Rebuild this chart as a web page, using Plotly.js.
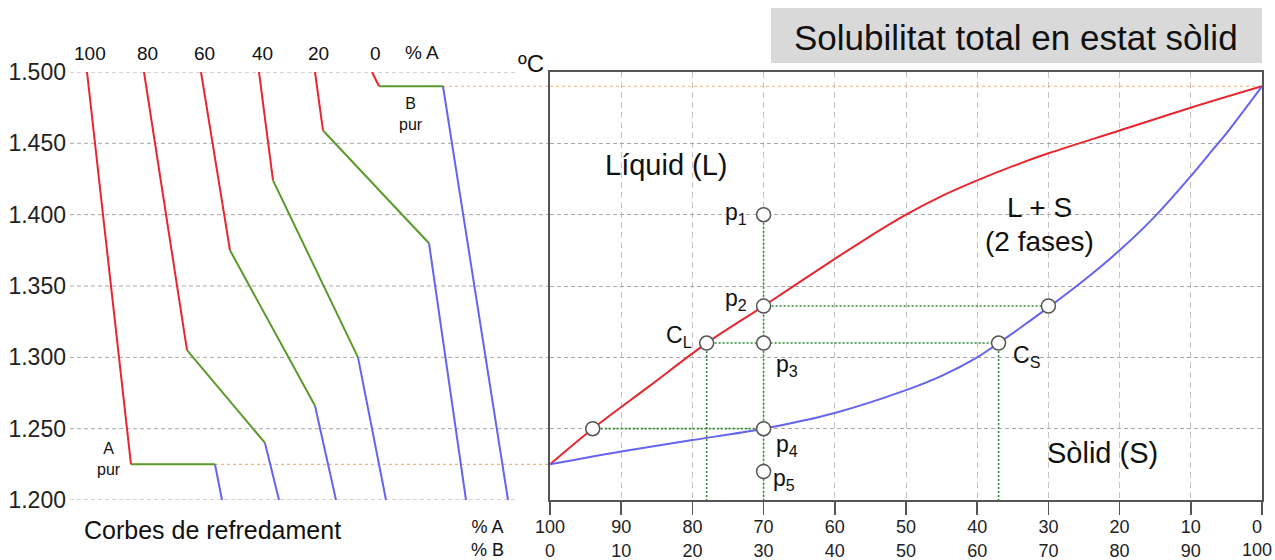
<!DOCTYPE html>
<html><head><meta charset="utf-8">
<script src="https://cdn.plot.ly/plotly-3.0.1.min.js"></script>
<style>html,body{margin:0;padding:0;background:#fff}#chart{width:1275px;height:560px}</style>
</head><body><div id="chart"></div>
<script>
// ---------------- DATA ----------------
// Temperature ticks (ºC)
const tempTicks = [1200, 1250, 1300, 1350, 1400, 1450, 1500];
// Composition ticks (right panel)
const compTicksA = [100, 90, 80, 70, 60, 50, 40, 30, 20, 10, 0];
const compTicksB = [0, 10, 20, 30, 40, 50, 60, 70, 80, 90, 100];

// Cooling curves (left panel), one per composition (% A)
const coolComp   = [100, 80, 60, 40, 20, 0];
const coolTopT   = 1500;
const coolBotT   = 1200;
const coolLiqT   = [1225, 1305, 1375, 1424, 1459, 1490];   // start of solidification
const coolSolT   = [1225, 1240, 1266, 1300, 1380, 1490];   // end of solidification
// time marks (arbitrary time units) for each curve
const tStart = [87, 144, 201, 259, 315, 372];
const tLiq   = [131, 187, 230, 273, 323, 379];
const tSol   = [215, 265, 315, 358, 429, 443];
const tEnd   = [222, 279, 336, 386, 466, 508];

// Phase diagram: liquidus and solidus (x = % A, y = ºC)
const liqA = [100, 94, 86, 78, 70, 60, 55, 50, 45, 40, 35, 30, 20, 10, 0];
const liqT = [1225, 1250, 1280, 1310, 1336, 1369, 1385, 1400, 1413, 1424, 1434, 1443, 1459, 1475, 1490];
const solA = [100, 90, 80, 70, 60, 50, 45, 40, 37, 30, 25, 20, 15, 10, 7, 5, 0];
const solT = [1225, 1234, 1242, 1250, 1261, 1277, 1287, 1300, 1310, 1335, 1354, 1375, 1399, 1427, 1445, 1457, 1490];

// Marked points (open circles)
const ptA = [70, 70, 70, 70, 70, 78, 37, 30, 94];
const ptT = [1400, 1336, 1310, 1250, 1220, 1310, 1310, 1336, 1250];
const ptLabel = ['p<sub>1</sub>', 'p<sub>2</sub>', 'p<sub>3</sub>', 'p<sub>4</sub>', 'p<sub>5</sub>', 'C<sub>L</sub>', 'C<sub>S</sub>', '', ''];

// Construction lines (green dotted): segments [A0,A1], [T0,T1]
const guideA = [[70, 70], [78, 78], [37, 37], [70, 30], [78, 37], [94, 70]];
const guideT = [[1400, 1200], [1310, 1200], [1310, 1200], [1336, 1336], [1310, 1310], [1250, 1250]];

// Melting points of pure metals
const meltA = 1225, meltB = 1490;

// ---------------- LAYOUT GEOMETRY ----------------
const W = 1275, H = 560, ML = 68, MR = 13, MT = 72, MB = 60;
const plotW = W - ML - MR;
const xLeftRange = [ML, W - MR];
const boxLeftPx = 550;
const x2Start = (boxLeftPx - ML) / plotW;
const boxLeftTime = xLeftRange[0] + x2Start * (xLeftRange[1] - xLeftRange[0]);

const RED = '#e8262e', GREEN = '#5a9a2a', BLUE = '#6464f0', ORANGE = '#f5b27a', GUIDE = '#2e8b2e';
const FONT = 'Liberation Sans, Arial, sans-serif';

// ---------------- TRACES ----------------
function seg(xs0, xs1, ys0, ys1) {
  const x = [], y = [];
  for (let i = 0; i < xs0.length; i++) { x.push(xs0[i], xs1[i], null); y.push(ys0[i], ys1[i], null); }
  return {x, y};
}
const n = coolComp.length;
const redSeg = seg(tStart, tLiq, Array(n).fill(coolTopT), coolLiqT);
const greenSeg = seg(tLiq, tSol, coolLiqT, coolSolT);
const blueSeg = seg(tSol, tEnd, coolSolT, Array(n).fill(coolBotT));

const traces = [];
const lineTrace = (s, color, xa, ya, extra) => Object.assign({
  type: 'scatter', mode: 'lines', x: s.x, y: s.y, xaxis: xa, yaxis: ya,
  line: {color: color, width: 2}, hoverinfo: 'skip', showlegend: false
}, extra || {});

const orangeLine = {color: ORANGE, width: 1.2, dash: '3px,3px'};
traces.push(lineTrace({x: [tSol[0], boxLeftTime], y: [meltA, meltA]}, ORANGE, 'x', 'y', {line: orangeLine}));
traces.push(lineTrace({x: [tSol[n - 1], boxLeftTime], y: [meltB, meltB]}, ORANGE, 'x', 'y', {line: orangeLine}));
traces.push(lineTrace({x: [compTicksA[0], compTicksA[compTicksA.length - 1]], y: [meltB, meltB]}, ORANGE, 'x2', 'y2', {line: orangeLine}));

traces.push(lineTrace(redSeg, RED, 'x', 'y'));
traces.push(lineTrace(greenSeg, GREEN, 'x', 'y'));
traces.push(lineTrace(blueSeg, BLUE, 'x', 'y'));

// phase diagram
traces.push(lineTrace({x: liqA, y: liqT}, RED, 'x2', 'y2', {line: {color: RED, width: 2, shape: 'spline', smoothing: 1}}));
traces.push(lineTrace({x: solA, y: solT}, BLUE, 'x2', 'y2', {line: {color: BLUE, width: 2, shape: 'spline', smoothing: 0.8}}));

// guides
const gx = [], gy = [];
guideA.forEach((a, i) => { gx.push(a[0], a[1], null); gy.push(guideT[i][0], guideT[i][1], null); });
traces.push(lineTrace({x: gx, y: gy}, GUIDE, 'x2', 'y2', {line: {color: GUIDE, width: 1.6, dash: '2px,2px'}}));

// circles
traces.push({type: 'scatter', mode: 'markers', x: ptA, y: ptT, xaxis: 'x2', yaxis: 'y2',
  marker: {size: 14, color: '#ffffff', line: {color: '#555555', width: 1.5}}, hoverinfo: 'skip', showlegend: false});

// ---------------- SHAPES ----------------
const shapes = [];
tempTicks.forEach(v => {
  const edge = (v === tempTicks[0] || v === tempTicks[tempTicks.length - 1]);
  shapes.push({type: 'line', xref: 'x', yref: 'y', x0: 70, x1: edge ? 518 : boxLeftTime, y0: v, y1: v,
    line: {color: '#a8a8a8', width: 1, dash: '4px,3px'}, layer: 'below'});
});
const py = px => 1 + (MT - px) / (H - MT - MB);
const pxx = px => (px - ML) / plotW;
shapes.push({type: 'rect', xref: 'paper', yref: 'paper', x0: pxx(771), x1: pxx(1262), y0: py(63), y1: py(8),
  fillcolor: '#d9d9d9', line: {width: 0}, layer: 'below'});

// ---------------- ANNOTATIONS ----------------
const ann = [];
const A = (o) => ann.push(Object.assign({showarrow: false, xanchor: 'center', yanchor: 'middle',
  font: {family: FONT, size: 18, color: '#111'}}, o));

A({xref: 'paper', yref: 'paper', x: pxx(1016), y: py(37), text: 'Solubilitat total en estat sòlid', font: {family: FONT, size: 35, color: '#111'}});
coolComp.forEach((c, i) => A({xref: 'x', yref: 'y', x: tStart[i], xshift: 3, y: coolTopT, yshift: 19, text: String(c), font: {family: FONT, size: 19, color: '#111'}}));
A({xref: 'x', yref: 'y', x: 422, y: coolTopT, yshift: 20, text: '% A', font: {family: FONT, size: 19, color: '#111'}});
A({xref: 'x', yref: 'y', x: 531, y: coolTopT, yshift: 9, text: 'ºC', font: {family: FONT, size: 24, color: '#111'}});
A({xref: 'x', yref: 'y', x: 109, y: meltA, yshift: 5, text: 'A<br>pur', font: {family: FONT, size: 16, color: '#111'}});
A({xref: 'x', yref: 'y', x: 411, y: meltB, yshift: -28, text: 'B<br>pur', font: {family: FONT, size: 16, color: '#111'}});
A({xref: 'x', yref: 'y', x: 212, y: coolBotT, yshift: -30, text: 'Corbes de refredament', font: {family: FONT, size: 25, color: '#111'}});
A({xref: 'x', yref: 'y', x: 487, y: coolBotT, yshift: -38, text: '% A<br>% B', font: {family: FONT, size: 18, color: '#111'}});

A({xref: 'x2', yref: 'y2', x: 83.6, y: 1435, text: 'Líquid (L)', font: {family: FONT, size: 29, color: '#111'}});
A({xref: 'x2', yref: 'y2', x: 31.2, y: 1405, text: 'L + S', font: {family: FONT, size: 28, color: '#111'}});
A({xref: 'x2', yref: 'y2', x: 31.2, y: 1381, text: '(2 fases)', font: {family: FONT, size: 28, color: '#111'}});
A({xref: 'x2', yref: 'y2', x: 22.4, y: 1233, text: 'Sòlid (S)', font: {family: FONT, size: 29, color: '#111'}});

const lblPos = [
  {xanchor: 'right', xshift: -15, yshift: 1},
  {xanchor: 'right', xshift: -15, yshift: 6},
  {xanchor: 'left', xshift: 10, yshift: -22},
  {xanchor: 'left', xshift: 10, yshift: -17},
  {xanchor: 'left', xshift: 7, yshift: -8},
  {xanchor: 'right', xshift: -13, yshift: 7},
  {xanchor: 'left', xshift: 12, yshift: -13}
];
ptLabel.forEach((t, i) => {
  if (!t) return;
  A(Object.assign({xref: 'x2', yref: 'y2', x: ptA[i], y: ptT[i], text: t, font: {family: FONT, size: 23, color: '#111'}}, lblPos[i]));
});

// bottom tick labels; the last one (at the page edge) is drawn as an annotation nudged inward
const lastIdx = compTicksA.length - 1;
const tickText = compTicksA.map((a, i) => i === lastIdx ? '' : a + '<br>' + compTicksB[i]);
A({xref: 'x2', yref: 'y2', x: compTicksA[lastIdx], xshift: -5, y: tempTicks[0], yshift: -38,
  text: compTicksA[lastIdx] + '<br>' + compTicksB[lastIdx], font: {family: FONT, size: 18, color: '#222'}});

// ---------------- LAYOUT ----------------
const layout = {
  width: W, height: H,
  margin: {l: ML, r: MR, t: MT, b: MB, pad: 0},
  paper_bgcolor: '#ffffff', plot_bgcolor: 'rgba(0,0,0,0)',
  separators: ',.',
  font: {family: FONT, color: '#111'},
  showlegend: false,
  xaxis: {domain: [0, 1], range: xLeftRange, visible: false, anchor: 'y', fixedrange: true},
  yaxis: {domain: [0, 1], range: [tempTicks[0], tempTicks[tempTicks.length - 1]], anchor: 'x',
    tickvals: tempTicks, tickformat: ',d', showgrid: false, zeroline: false, showline: false, ticks: '',
    tickfont: {family: FONT, size: 23, color: '#222'}, ticklabelstandoff: 1, fixedrange: true},
  xaxis2: {domain: [x2Start, 1], range: [compTicksA[0], compTicksA[lastIdx]], anchor: 'y2',
    tickvals: compTicksA, ticktext: tickText,
    showgrid: true, gridcolor: '#c4c4c4', gridwidth: 1, griddash: '6px,4px', zeroline: false,
    showline: true, mirror: true, linecolor: '#555555', linewidth: 1.6,
    ticks: 'outside', ticklen: 13, tickwidth: 1.5, tickcolor: '#555555', ticklabelstandoff: -3,
    ticklabeloverflow: 'allow',
    tickfont: {family: FONT, size: 18, color: '#222'}, fixedrange: true},
  yaxis2: {domain: [0, 1], range: [tempTicks[0], tempTicks[tempTicks.length - 1]], anchor: 'x2',
    tickvals: tempTicks, showticklabels: false, ticks: '',
    showgrid: true, gridcolor: '#a8a8a8', gridwidth: 1, griddash: '4px,3px', zeroline: false,
    showline: true, mirror: true, linecolor: '#555555', linewidth: 1.6, fixedrange: true},
  shapes: shapes,
  annotations: ann
};

Plotly.newPlot('chart', traces, layout, {staticPlot: true, displayModeBar: false});
</script>
</body></html>
